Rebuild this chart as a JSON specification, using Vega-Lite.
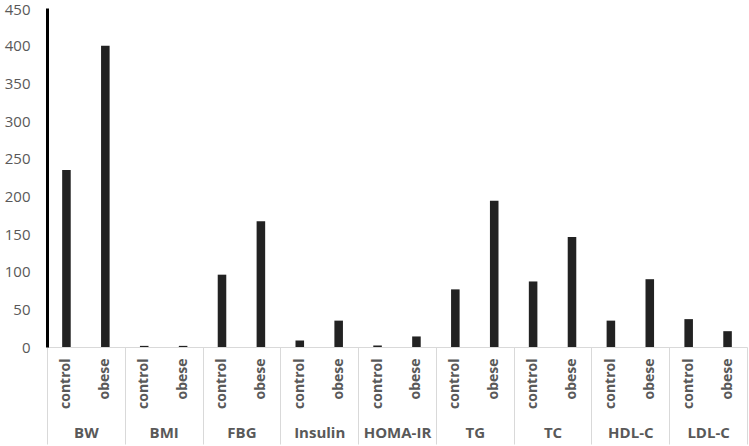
{
  "$schema": "https://vega.github.io/schema/vega-lite/v6.json",
  "width": 700,
  "height": 339,
  "autosize": {"type": "none"},
  "padding": {"left": 47, "top": 8, "right": 2, "bottom": 99},
  "config": {"view": {"stroke": null}, "font": "Open Sans"},
  "data": {"values": [
    {"group": "BW", "sub": "control", "key": "BW|control", "value": 235},
    {"group": "BW", "sub": "obese", "key": "BW|obese", "value": 400},
    {"group": "BMI", "sub": "control", "key": "BMI|control", "value": 1.5},
    {"group": "BMI", "sub": "obese", "key": "BMI|obese", "value": 1.5},
    {"group": "FBG", "sub": "control", "key": "FBG|control", "value": 96},
    {"group": "FBG", "sub": "obese", "key": "FBG|obese", "value": 167},
    {"group": "Insulin", "sub": "control", "key": "Insulin|control", "value": 8.5},
    {"group": "Insulin", "sub": "obese", "key": "Insulin|obese", "value": 35},
    {"group": "HOMA-IR", "sub": "control", "key": "HOMA-IR|control", "value": 2},
    {"group": "HOMA-IR", "sub": "obese", "key": "HOMA-IR|obese", "value": 14},
    {"group": "TG", "sub": "control", "key": "TG|control", "value": 76.5},
    {"group": "TG", "sub": "obese", "key": "TG|obese", "value": 194},
    {"group": "TC", "sub": "control", "key": "TC|control", "value": 87},
    {"group": "TC", "sub": "obese", "key": "TC|obese", "value": 146},
    {"group": "HDL-C", "sub": "control", "key": "HDL-C|control", "value": 35},
    {"group": "HDL-C", "sub": "obese", "key": "HDL-C|obese", "value": 90},
    {"group": "LDL-C", "sub": "control", "key": "LDL-C|control", "value": 37},
    {"group": "LDL-C", "sub": "obese", "key": "LDL-C|obese", "value": 21}
  ]},
  "encoding": {
    "y": {
      "field": "value", "type": "quantitative",
      "scale": {"domain": [0, 450], "nice": false},
      "axis": {
        "title": null,
        "values": [0, 50, 100, 150, 200, 250, 300, 350, 400, 450],
        "grid": false,
        "ticks": false,
        "domainColor": "#000000",
        "domainWidth": 3,
        "labelFontSize": 15,
        "labelColor": "#595959",
        "labelPadding": 17,
        "labelOverlap": false,
        "labelBound": false,
        "labelFlush": false,
        "labelOffset": {"condition": {"test": "datum.value === 450", "value": 1}, "value": 0}
      }
    }
  },
  "layer": [
    {
      "mark": {"type": "bar", "color": "#222222"},
      "encoding": {
        "x": {
          "field": "key", "type": "nominal", "sort": null,
          "scale": {"paddingInner": 0.78, "paddingOuter": 0.39},
          "axis": {
            "title": null,
            "labelExpr": "split(datum.label, '|')[1]",
            "labelAngle": -90,
            "labelPadding": 11,
            "labelFontSize": 14,
            "labelFontWeight": "bold",
            "labelColor": "#595959",
            "ticks": false,
            "domain": true,
            "domainColor": "#d9d9d9",
            "domainWidth": 1
          }
        }
      }
    },
    {
      "mark": {"type": "bar", "opacity": 0},
      "encoding": {
        "x": {
          "field": "group", "type": "nominal", "sort": null,
          "scale": {"paddingInner": 0, "paddingOuter": 0},
          "axis": {
            "orient": "bottom",
            "title": null,
            "labelAngle": 0,
            "domain": false,
            "ticks": true,
            "tickBand": "extent",
            "tickSize": 97,
            "tickColor": "#d9d9d9",
            "tickWidth": 1,
            "labelPadding": -19,
            "labelFontSize": 15,
            "labelFontWeight": "bold",
            "labelColor": "#595959",
            "labelOverlap": false,
            "labelBound": false
          }
        }
      }
    }
  ],
  "resolve": {"scale": {"x": "independent"}, "axis": {"x": "independent"}}
}
